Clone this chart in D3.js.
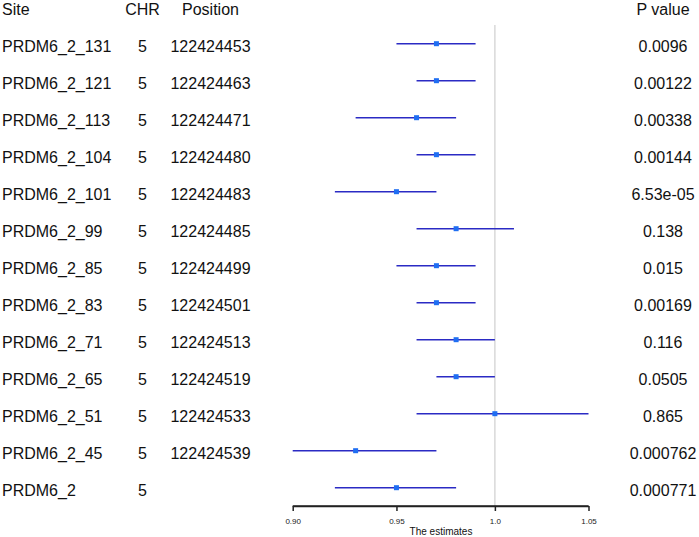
<!DOCTYPE html>
<html><head><meta charset="utf-8">
<script src="https://cdn.jsdelivr.net/npm/d3@7/dist/d3.min.js"></script>
<style>body{margin:0;background:#fff}svg{display:block}text{font-family:Arial,"Liberation Sans",sans-serif}</style>
</head><body>
<script>
const sites = ["PRDM6_2_131","PRDM6_2_121","PRDM6_2_113","PRDM6_2_104","PRDM6_2_101","PRDM6_2_99","PRDM6_2_85","PRDM6_2_83","PRDM6_2_71","PRDM6_2_65","PRDM6_2_51","PRDM6_2_45","PRDM6_2"];
const chr = ["5","5","5","5","5","5","5","5","5","5","5","5","5"];
const positions = ["122424453","122424463","122424471","122424480","122424483","122424485","122424499","122424501","122424513","122424519","122424533","122424539",""];
const estimates = [0.97,0.97,0.96,0.97,0.95,0.98,0.97,0.97,0.98,0.98,1.00,0.93,0.95];
const lower = [0.95,0.96,0.93,0.96,0.92,0.96,0.95,0.96,0.96,0.97,0.96,0.90,0.92];
const upper = [0.99,0.99,0.98,0.99,0.97,1.01,0.99,0.99,1.00,1.00,1.05,0.97,0.98];
const pvalues = ["0.0096","0.00122","0.00338","0.00144","6.53e-05","0.138","0.015","0.00169","0.116","0.0505","0.865","0.000762","0.000771"];
const xTicks = [0.90,0.95,1.0,1.05];
const xTickLabels = ["0.90","0.95","1.0","1.05"];
const headers = ["Site","CHR","Position","P value"];

const W=699,H=537;
const svg=d3.select("body").append("svg").attr("width",W).attr("height",H);
const x=d3.scaleLog().domain([0.9,1.05]).range([292.7,588.5]);
const y=d3.scaleLinear().domain([0,sites.length-1]).range([43.7,487.7]);
const idx=d3.range(sites.length);
const fs=16;

// headers
svg.append("text").attr("x",2).attr("y",14.5).attr("font-size",fs).attr("fill","#111").text(headers[0]);
svg.append("text").attr("x",142.5).attr("y",14.5).attr("text-anchor","middle").attr("font-size",fs).attr("fill","#111").text(headers[1]);
svg.append("text").attr("x",210.5).attr("y",14.5).attr("text-anchor","middle").attr("font-size",fs).attr("fill","#111").text(headers[2]);
svg.append("text").attr("x",663).attr("y",14.5).attr("text-anchor","middle").attr("font-size",fs).attr("fill","#111").text(headers[3]);

const g=svg.append("g");
g.selectAll(".site").data(idx).join("text").attr("x",2).attr("y",i=>y(i)+7.8).attr("font-size",fs).attr("fill","#111").text(i=>sites[i]);
g.selectAll(".chr").data(idx).join("text").attr("x",142.5).attr("y",i=>y(i)+7.8).attr("text-anchor","middle").attr("font-size",fs).attr("fill","#111").text(i=>chr[i]);
g.selectAll(".pos").data(idx).join("text").attr("x",210.5).attr("y",i=>y(i)+7.8).attr("text-anchor","middle").attr("font-size",fs).attr("fill","#111").text(i=>positions[i]);
g.selectAll(".pv").data(idx).join("text").attr("x",663).attr("y",i=>y(i)+7.8).attr("text-anchor","middle").attr("font-size",fs).attr("fill","#111").text(i=>pvalues[i]);

// reference line
svg.append("line").attr("x1",x(1)).attr("x2",x(1)).attr("y1",25).attr("y2",506).attr("stroke","#d9d9d9").attr("stroke-width",1.5);

// CI lines
svg.selectAll(".ci").data(idx).join("line")
  .attr("x1",i=>x(lower[i])).attr("x2",i=>x(upper[i]))
  .attr("y1",i=>y(i)).attr("y2",i=>y(i))
  .attr("stroke","#2b2bc4").attr("stroke-width",1.4);
// points
const ps=5;
svg.selectAll(".pt").data(idx).join("rect")
  .attr("x",i=>x(estimates[i])-ps/2).attr("y",i=>y(i)-ps/2)
  .attr("width",ps).attr("height",ps).attr("fill","#1f6ef2");

// axis
const axis=d3.axisBottom(x).tickValues(xTicks).tickFormat((d,i)=>xTickLabels[i]).tickSize(5).tickSizeOuter(0);
const ag=svg.append("g").attr("transform","translate(0,506)").call(axis);
ag.select(".domain").attr("stroke","#222").attr("stroke-width",1.5).attr("fill","none");
ag.selectAll(".tick line").attr("stroke","#222").attr("stroke-width",1.5);
ag.selectAll(".tick text").attr("font-size",8).attr("fill","#222").attr("dy",null).attr("y",18);
svg.append("line").attr("x1",x.range()[0]).attr("x2",x.range()[1]).attr("y1",506).attr("y2",506).attr("stroke","#222").attr("stroke-width",1.5);
svg.append("text").attr("x",441).attr("y",534.5).attr("text-anchor","middle").attr("font-size",10).attr("fill","#111").text("The estimates");
</script>
</body></html>
